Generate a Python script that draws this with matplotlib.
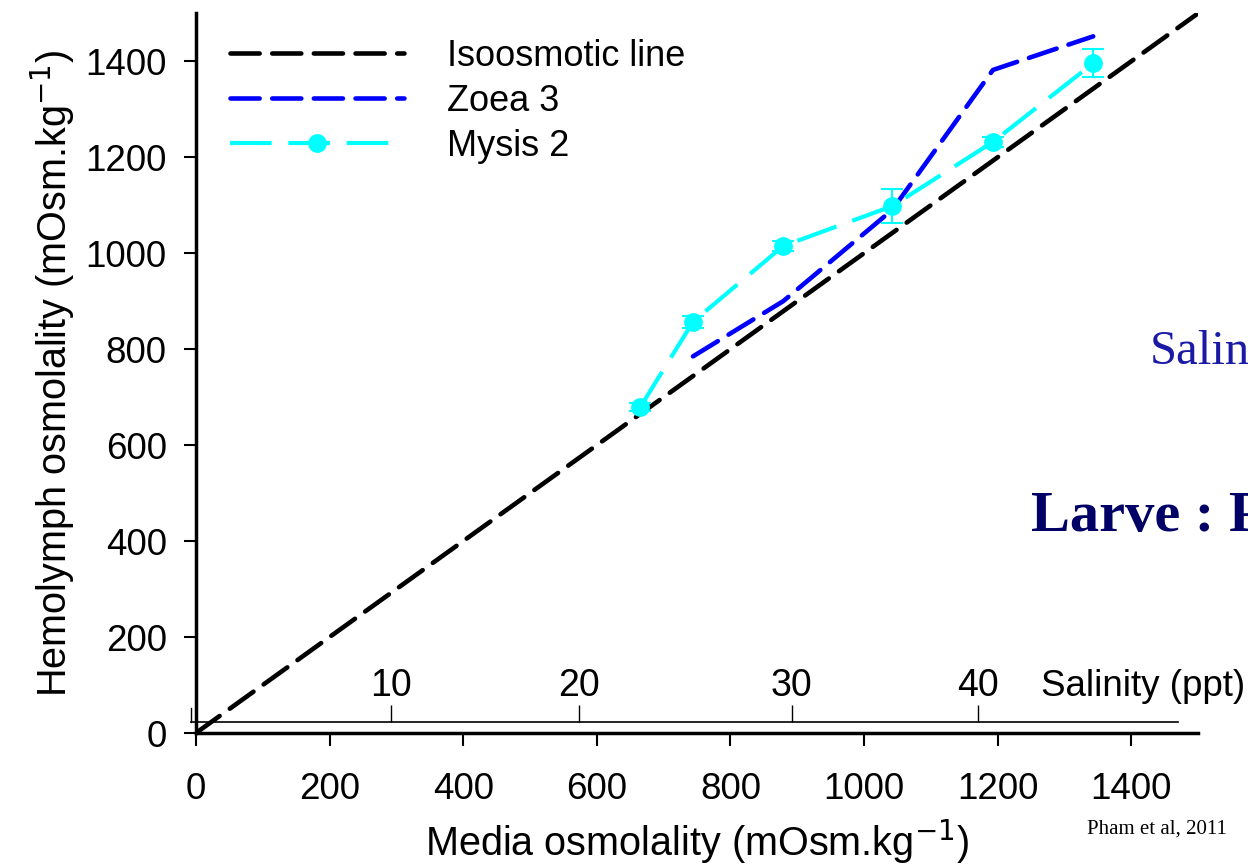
import matplotlib
matplotlib.use("Agg")
import matplotlib.pyplot as plt
from matplotlib.lines import Line2D

plt.rcParams['font.family'] = ['Liberation Sans', 'DejaVu Sans']
plt.rcParams['lines.scale_dashes'] = False

# isoosmotic reference
iso_x = [0, 1500]
iso_y = [0, 1500]

# Zoea 3
zoea_x = [744, 879, 1042, 1193, 1343]
zoea_y = [785, 900, 1090, 1382, 1452]

# Mysis 2
mysis_x = [665, 744, 879, 1042, 1193, 1343]
mysis_y = [679, 857, 1015, 1098, 1232, 1396]
mysis_err = [8, 12, 10, 35, 10, 29]

# salinity scale drawn above the x axis
sal_labels = ['10', '20', '30', '40']
sal_pos = [292, 574, 892, 1171]

CYAN = '#00ffff'
BLUE = '#0000ff'

fig = plt.figure(figsize=(12.48, 8.65), dpi=100)
ax = fig.add_axes([0.157, 0.1526, 0.803, 0.832])

ax.plot(iso_x, iso_y, color='black', lw=3.3, dashes=(21, 9),
        dash_capstyle='round', zorder=2)
ax.plot(zoea_x, zoea_y, color=BLUE, lw=3.3, dashes=(21, 9),
        dash_capstyle='round', zorder=3)
ax.errorbar(mysis_x, mysis_y, yerr=mysis_err, fmt='none', ecolor=CYAN,
            elinewidth=1.5, capsize=8, capthick=1.5, zorder=4)
ax.plot(mysis_x, mysis_y, color=CYAN, lw=3.0, dashes=(30, 12),
        marker='o', markersize=12.5, zorder=5)

ax.set_xlim(0, 1500)
ax.set_ylim(0, 1500)
ax.set_xticks(range(0, 1401, 200))
ax.set_yticks(range(0, 1401, 200))
ax.spines['top'].set_visible(False)
ax.spines['right'].set_visible(False)
for s in ('left', 'bottom'):
    ax.spines[s].set_linewidth(2.5)
ax.tick_params(direction='out', length=9, width=1.5, labelsize=26.5)
ax.tick_params(axis='x', pad=19)
ax.tick_params(axis='y', pad=12)

ax.set_xlabel('Media osmolality (mOsm.kg$^{-1}$)', fontsize=28.5, labelpad=8)
ax.set_ylabel('Hemolymph osmolality (mOsm.kg$^{-1}$)', fontsize=28.5, labelpad=6)

# salinity axis
ax.plot([-8, 1470], [23, 23], color='black', lw=1.2, clip_on=False)
ax.plot([-8, -8], [23, 52], color='black', lw=1.0, clip_on=False)
ax.vlines(sal_pos, 23, 58, color='black', lw=1.0)
for p, lab in zip(sal_pos, sal_labels):
    ax.text(p, 60, lab, ha='center', va='bottom', fontsize=27)
ax.text(1265, 60, 'Salinity (ppt)', ha='left', va='bottom', fontsize=26.5)

handles = [
    Line2D([], [], color='black', lw=3.3, dashes=(21, 9), dash_capstyle='round'),
    Line2D([], [], color=BLUE, lw=3.3, dashes=(21, 9), dash_capstyle='round'),
    Line2D([], [], color=CYAN, lw=3.0, dashes=(30, 12), marker='o', markersize=12.5),
]
labels = ['Isoosmotic line', 'Zoea 3', 'Mysis 2']
ax.legend(handles, labels, loc='upper left', bbox_to_anchor=(0.002, 1.01),
          frameon=False, fontsize=26, handlelength=4.8, handletextpad=1.2,
          labelspacing=0.28, numpoints=1)

fig.text(0.871, 0.036, 'Pham et al, 2011', fontsize=15,
         family='Liberation Serif')
fig.text(0.921, 0.593, 'Salinity', fontsize=35, color='#1a1aa6',
         family='Liberation Serif', va='center')
fig.text(0.826, 0.402, 'Larve : P', fontsize=42, color='#000066',
         family='Liberation Serif', weight='bold', va='center')

fig.savefig('out.png', dpi=100)
